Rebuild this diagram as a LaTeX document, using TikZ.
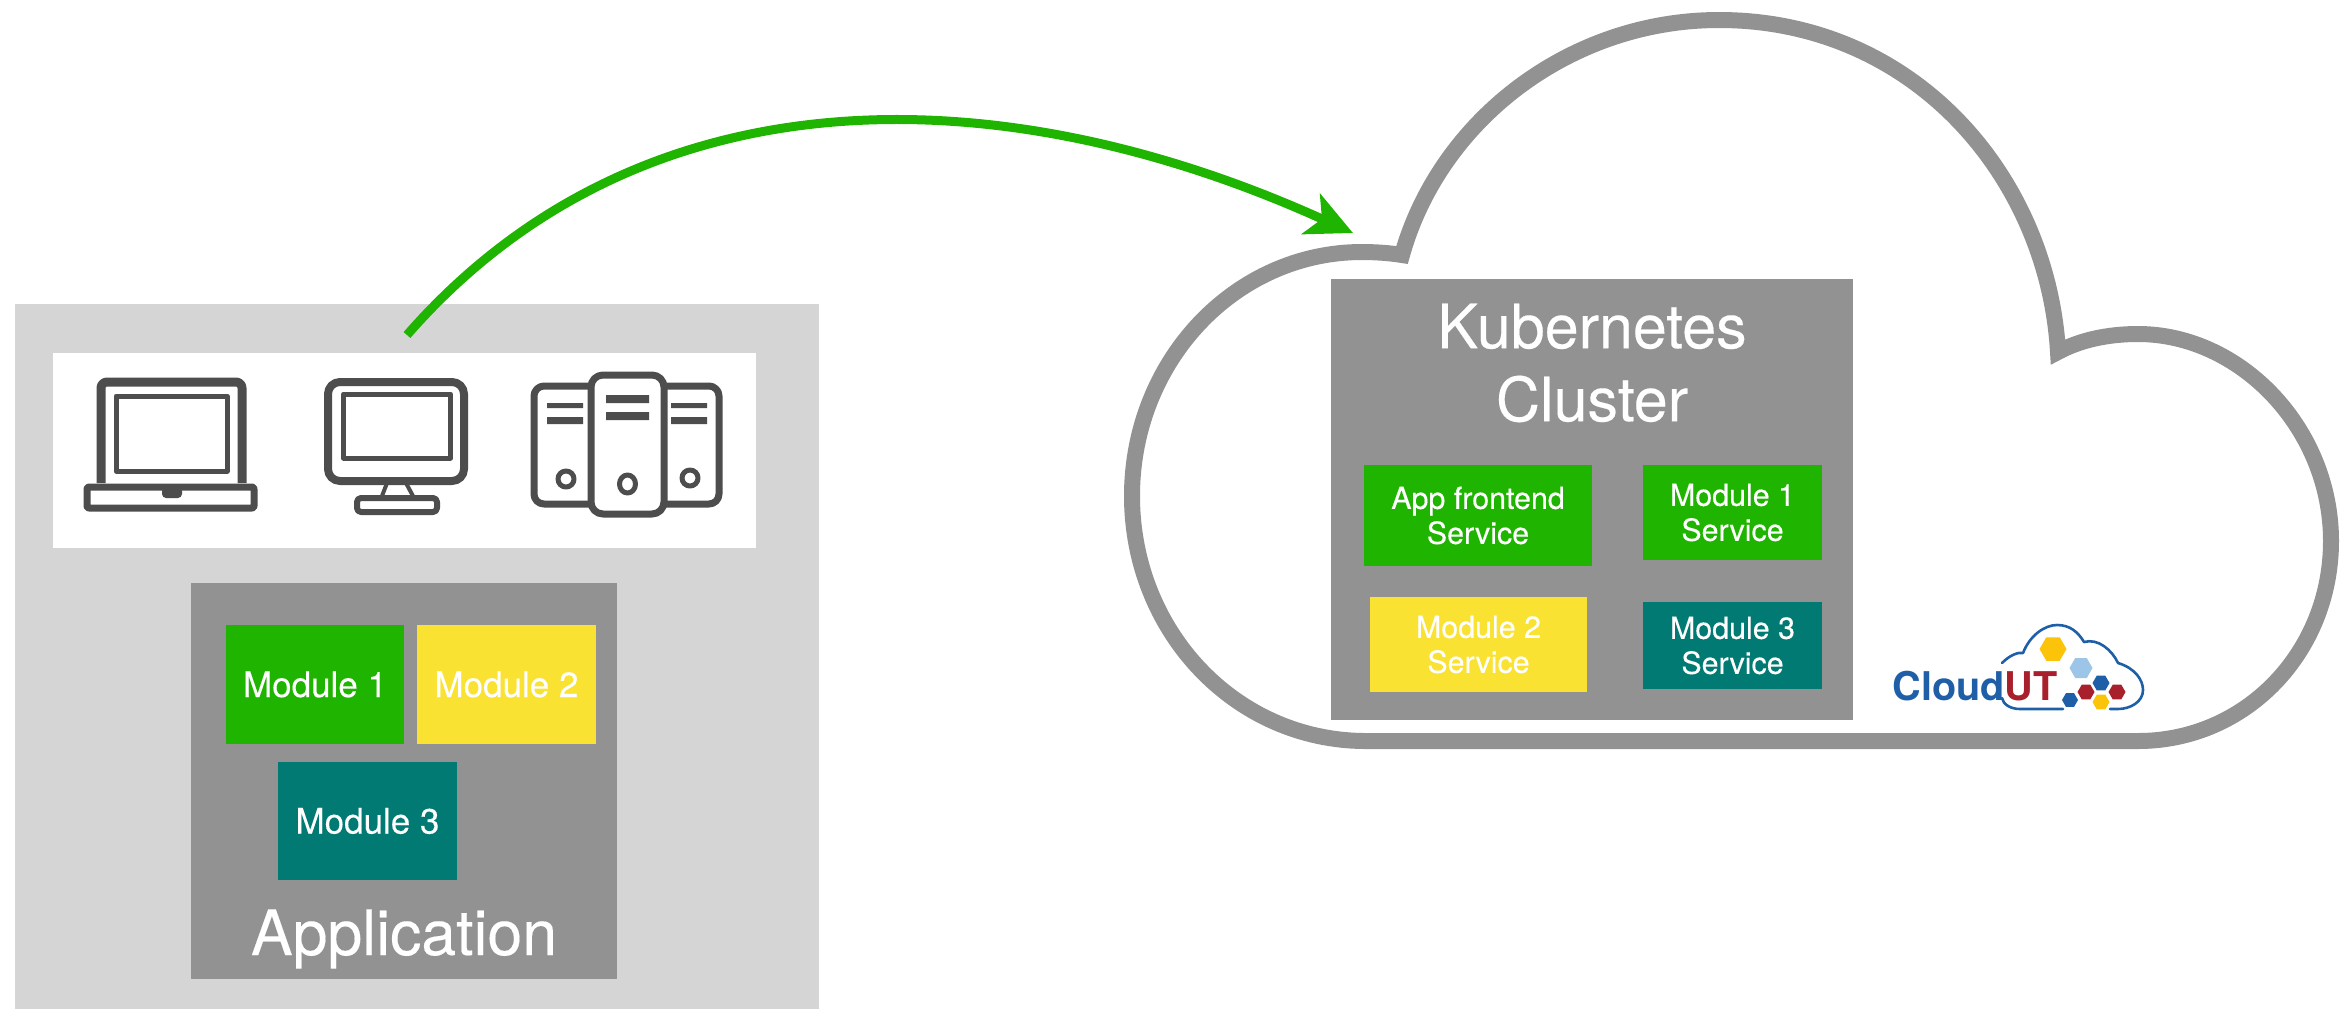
\documentclass[tikz,border=0pt]{standalone}
\usepackage{fontspec}
\setmainfont{TeX Gyre Heros}
\newfontface\hvm[FakeBold=0.25]{TeX Gyre Heros}
\usetikzlibrary{arrows.meta}
\definecolor{gr}{HTML}{1FB400}
\definecolor{ye}{HTML}{F9E231}
\definecolor{te}{HTML}{007A72}
\definecolor{gy}{HTML}{929292}
\definecolor{lg}{HTML}{D5D5D5}
\definecolor{ic}{HTML}{4D4D4D}
\definecolor{lb}{HTML}{1F5FA8}
\definecolor{lr}{HTML}{A8202C}
\definecolor{ly}{HTML}{FCC30B}
\definecolor{lc}{HTML}{9CC5E8}
\newcommand{\hexa}[4]{\fill[#1] (#2,#3) ++(#4,0) -- ++(-#4/2,#4*0.87) -- ++(-#4,0) -- ++(-#4/2,-#4*0.87) -- ++(#4/2,-#4*0.87) -- ++(#4,0) -- cycle;}
\tikzset{
  box/.style={inner sep=0pt,outer sep=0pt,text=white,align=center},
  bigtxt/.style={font=\hvm\fontsize{31.3}{36}\selectfont,text=white,align=center,inner sep=0pt},
  modtxt/.style={box,font=\hvm\fontsize{17.5}{21}\selectfont},
  svctxt/.style={box,font=\hvm\fontsize{15.2}{17.5}\selectfont},
  icon/.style={draw=ic,fill=none,line join=round},
}
\begin{document}
\begin{tikzpicture}[x=0.5pt,y=-0.5pt]
\useasboundingbox (0,0) rectangle (2347,1009);
% client side
\node[box,fill=lg,minimum width=402pt,minimum height=352.5pt] (client) at (417,656.5) {};
\node[box,fill=white,minimum width=351.5pt,minimum height=97.5pt] (devices) at (404.5,450.5) {};
\node[box,fill=gy,minimum width=213pt,minimum height=198pt] (app) at (404,781) {};
\node[modtxt,fill=gr,minimum width=89pt,minimum height=59.5pt] (m1) at (315,684.5) {Module 1};
\node[modtxt,fill=ye,minimum width=89.5pt,minimum height=59.5pt] (m2) at (506.5,684.5) {Module 2};
\node[modtxt,fill=te,minimum width=89.5pt,minimum height=59pt] (m3) at (367.5,821) {Module 3};
\node[bigtxt] (apptitle) at (404,939) {Application};
% laptop
\draw[icon,line width=4.5pt,rounded corners=3pt] (101,483) -- (101,382) -- (242,382) -- (242,483);
\draw[icon,line width=2.5pt] (116,396) rectangle (227,471);
\draw[icon,line width=3.5pt,rounded corners=1pt] (87,487) rectangle (254,508);
\fill[ic,rounded corners=2pt] (162,487) rectangle (182,498);
% monitor
\draw[icon,line width=4pt,rounded corners=6pt] (328,382) rectangle (464,481);
\draw[icon,line width=2.5pt] (343.5,394) rectangle (450.5,458);
\draw[icon,line width=2pt] (387,483) -- (382,496) (406,483) -- (413,496);
\draw[icon,line width=3pt,rounded corners=2pt] (357,498) rectangle (437,512);
% servers
\draw[icon,line width=3.5pt,rounded corners=5pt] (591,386) -- (534,386) -- (534,504) -- (591,504);
\draw[icon,line width=3.5pt,rounded corners=5pt] (664,386) -- (719,386) -- (719,504) -- (664,504);
\draw[icon,line width=3.5pt,rounded corners=6pt] (591,375) rectangle (664,514);
\fill[ic] (606,395) rectangle (649,403) (606,412) rectangle (649,420);
\fill[ic] (547,403) rectangle (583,408) (547,417) rectangle (583,424);
\fill[ic] (671,403) rectangle (707,408) (671,417) rectangle (707,424);
\draw[icon,line width=2.5pt] (566,479) ellipse [x radius=8,y radius=8];
\draw[icon,line width=2.5pt] (627.5,484) ellipse [x radius=8,y radius=9];
\draw[icon,line width=2.5pt] (690,478) ellipse [x radius=8,y radius=8];
% cloud
\draw[gy,line width=8pt,miter limit=10]
  (1402,255) .. controls (1390,253) and (1375,252) .. (1362,252)
  .. controls (1235,252) and (1132,361) .. (1132,496)
  .. controls (1132,631) and (1235,741) .. (1366,741)
  -- (2138,741)
  .. controls (2246,741) and (2331,652) .. (2331,541)
  .. controls (2331,428) and (2240,334) .. (2138,334)
  .. controls (2108,334) and (2080,340) .. (2058,352)
  .. controls (2048,178) and (1915,20) .. (1719,20)
  .. controls (1570,20) and (1440,120) .. (1402,255) -- cycle;
% cluster
\node[box,fill=gy,minimum width=261pt,minimum height=220.5pt] (cluster) at (1592,499.5) {};
\node[bigtxt,font=\hvm\fontsize{30.5}{36.5}\selectfont] (clustertitle) at (1592,363) {Kubernetes\\Cluster};
\node[svctxt,fill=gr,minimum width=114pt,minimum height=50.5pt] (s0) at (1478,515.5) {App frontend\\Service};
\node[svctxt,fill=gr,minimum width=89.5pt,minimum height=47.5pt] (s1) at (1732.5,512.5) {Module 1\\Service};
\node[svctxt,fill=ye,minimum width=108.5pt,minimum height=47.5pt] (s2) at (1478.5,644.5) {Module 2\\Service};
\node[svctxt,fill=te,minimum width=89.5pt,minimum height=43.5pt] (s3) at (1732.5,645.5) {Module 3\\Service};
% logo
\draw[lb,line width=1.3pt,line join=round,line cap=round]
  (2002,663) .. controls (2010,655) and (2018,652) .. (2023,653)
  .. controls (2030,635) and (2045,625) .. (2057,625)
  .. controls (2070,625) and (2078,632) .. (2084,642)
  .. controls (2098,638) and (2112,650) .. (2118,663)
  .. controls (2135,668) and (2143,680) .. (2143,690)
  .. controls (2143,702) and (2130,709) .. (2118,709)
  -- (2110,709);
\draw[lb,line width=1.3pt,line cap=round]
  (2063,709) -- (2020,709) .. controls (2010,709) and (2003,704) .. (2002,698);
\hexa{ly}{2053}{649}{13.5}
\hexa{lc}{2081}{668}{11.5}
\hexa{lb}{2101}{683}{8.5}
\hexa{lr}{2086}{692}{8.5}
\hexa{lr}{2117}{692}{8.5}
\hexa{ly}{2101}{702}{8.5}
\hexa{lb}{2070}{700}{8}
\node[inner sep=0pt,anchor=base west,font=\fontsize{19.8}{22}\bfseries\selectfont] (logotxt) at (1892,700) {\textcolor{lb}{Cloud}\textcolor{lr}{UT}};
% arrow
\coordinate (arrowstart) at (407,335);
\coordinate (arrowtip) at (1353,233);
\draw[gr,line width=4.5pt,-{Stealth[length=23pt,width=22pt,inset=6pt]}]
  (arrowstart) .. controls (640,68) and (1000,73) .. (arrowtip);
\end{tikzpicture}
\end{document}
